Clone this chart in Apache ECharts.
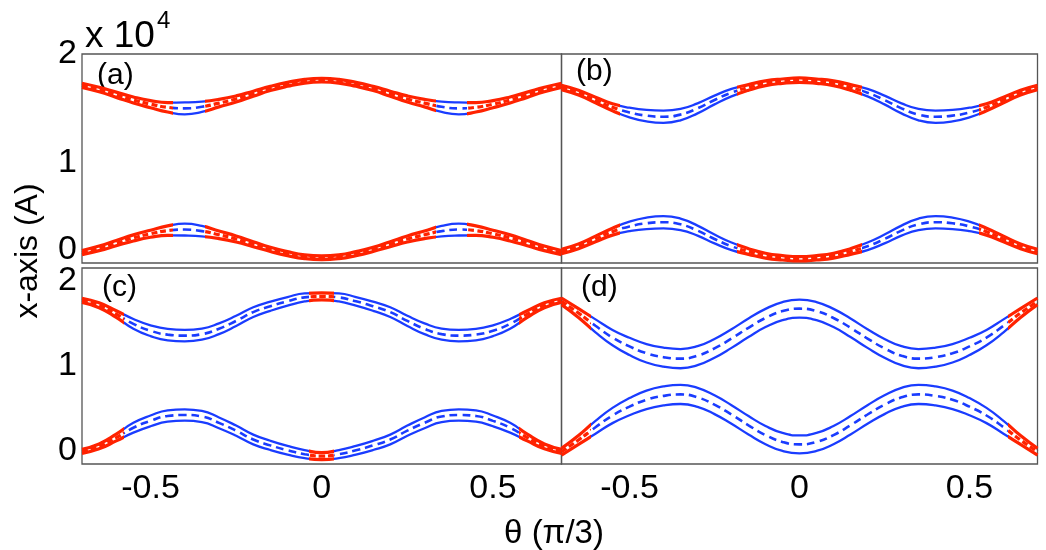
<!DOCTYPE html>
<html>
<head>
<meta charset="utf-8">
<script src="https://cdn.jsdelivr.net/npm/echarts@6/dist/echarts.min.js"></script>
<style>
  html, body { margin: 0; padding: 0; background: #fff; }
  #chart { width: 1046px; height: 550px; }
</style>
</head>
<body>
<div id="chart"></div>
<script>
// theta in units of pi/3
const theta = [-0.7, -0.65, -0.6, -0.55, -0.5, -0.45, -0.4, -0.35, -0.3, -0.25, -0.2, -0.15, -0.1, -0.05, 0,
  0.05, 0.1, 0.15, 0.2, 0.25, 0.3, 0.35, 0.4, 0.45, 0.5, 0.55, 0.6, 0.65, 0.7];

// band centres (x 10^4 A)
const upperA = [1.70, 1.66, 1.61, 1.56, 1.52, 1.49, 1.48, 1.495, 1.53, 1.57, 1.62, 1.67, 1.71, 1.74, 1.75,
  1.74, 1.71, 1.67, 1.62, 1.57, 1.53, 1.495, 1.48, 1.49, 1.52, 1.56, 1.61, 1.66, 1.70];
const lowerA = [0.10, 0.14, 0.19, 0.24, 0.28, 0.31, 0.32, 0.305, 0.27, 0.23, 0.18, 0.13, 0.09, 0.06, 0.05,
  0.06, 0.09, 0.13, 0.18, 0.23, 0.27, 0.305, 0.32, 0.31, 0.28, 0.24, 0.19, 0.14, 0.10];
const upperB = [1.68, 1.63, 1.56, 1.49, 1.44, 1.41, 1.40, 1.42, 1.48, 1.56, 1.63, 1.68, 1.72, 1.74, 1.75,
  1.74, 1.72, 1.68, 1.63, 1.56, 1.48, 1.42, 1.40, 1.41, 1.44, 1.49, 1.56, 1.63, 1.68];
const lowerB = [0.11, 0.16, 0.23, 0.30, 0.35, 0.38, 0.39, 0.37, 0.31, 0.23, 0.16, 0.11, 0.07, 0.05, 0.04,
  0.05, 0.07, 0.11, 0.16, 0.23, 0.31, 0.37, 0.39, 0.38, 0.35, 0.30, 0.23, 0.16, 0.11];
const upperC = [1.67, 1.62, 1.53, 1.43, 1.36, 1.32, 1.31, 1.325, 1.38, 1.46, 1.55, 1.61, 1.66, 1.70, 1.71,
  1.70, 1.66, 1.61, 1.55, 1.46, 1.38, 1.325, 1.31, 1.32, 1.36, 1.43, 1.53, 1.62, 1.67];
const lowerC = [0.13, 0.18, 0.27, 0.37, 0.44, 0.49, 0.50, 0.485, 0.42, 0.34, 0.25, 0.19, 0.14, 0.10, 0.08,
  0.10, 0.14, 0.19, 0.25, 0.34, 0.42, 0.485, 0.50, 0.49, 0.44, 0.37, 0.27, 0.18, 0.13];
const upperD = [1.66, 1.54, 1.41, 1.29, 1.20, 1.13, 1.09, 1.075, 1.105, 1.18, 1.28, 1.39, 1.49, 1.56, 1.585,
  1.56, 1.49, 1.39, 1.28, 1.18, 1.105, 1.075, 1.09, 1.13, 1.20, 1.29, 1.41, 1.54, 1.66];
const lowerD = [0.125, 0.245, 0.375, 0.495, 0.585, 0.655, 0.695, 0.71, 0.68, 0.605, 0.505, 0.395, 0.295, 0.225, 0.20,
  0.225, 0.295, 0.395, 0.505, 0.605, 0.68, 0.71, 0.695, 0.655, 0.585, 0.495, 0.375, 0.245, 0.125];

// half width of the band at each theta: outer solid lines sit at centre +/- this
const widthA = [0.020, 0.022, 0.025, 0.029, 0.034, 0.045, 0.057, 0.050, 0.036, 0.029, 0.024, 0.020, 0.019, 0.018, 0.018,
  0.018, 0.019, 0.020, 0.024, 0.029, 0.036, 0.050, 0.057, 0.045, 0.034, 0.029, 0.025, 0.022, 0.020];
const widthB = [0.021, 0.023, 0.027, 0.033, 0.046, 0.055, 0.059, 0.055, 0.048, 0.042, 0.036, 0.027, 0.023, 0.021, 0.021,
  0.021, 0.023, 0.027, 0.036, 0.042, 0.048, 0.055, 0.059, 0.055, 0.046, 0.033, 0.027, 0.023, 0.021];
const widthC = [0.021, 0.025, 0.034, 0.050, 0.055, 0.058, 0.058, 0.057, 0.055, 0.052, 0.050, 0.047, 0.044, 0.041, 0.036,
  0.041, 0.044, 0.047, 0.050, 0.052, 0.055, 0.057, 0.058, 0.058, 0.055, 0.050, 0.034, 0.025, 0.021];
const widthD = [0.034, 0.045, 0.066, 0.078, 0.088, 0.094, 0.097, 0.098, 0.097, 0.096, 0.095, 0.094, 0.093, 0.092, 0.092,
  0.092, 0.093, 0.094, 0.095, 0.096, 0.097, 0.098, 0.097, 0.094, 0.088, 0.078, 0.066, 0.045, 0.034];

// theta where the colour switches, starting red at the left edge
const switchA = [-0.435, -0.34, 0.335, 0.425];
const switchB = [-0.527, -0.184, 0.185, 0.527];
const switchC = [-0.577, -0.037, 0.035, 0.575];
const switchD = [-0.612, 0.612];

const xTicks = [-0.5, 0, 0.5];
const yTicks = [0, 1, 2];
const panelNames = ['(a)', '(b)', '(c)', '(d)'];

const RED = '#ff2200';
const BLUE = '#1a3cff';
const CLEAR = 'rgba(255,255,255,0)';
const FONT = 'Liberation Sans, Arial, sans-serif';

const panels = [
  { upper: upperA, lower: lowerA, hw: widthA, sw: switchA },
  { upper: upperB, lower: lowerB, hw: widthB, sw: switchB },
  { upper: upperC, lower: lowerC, hw: widthC, sw: switchC },
  { upper: upperD, lower: lowerD, hw: widthD, sw: switchD }
];

const grids = [
  { left: 82, top: 54, width: 479.5, height: 209 },
  { left: 561.5, top: 54, width: 476, height: 209 },
  { left: 82, top: 268, width: 479.5, height: 196 },
  { left: 561.5, top: 268, width: 476, height: 196 }
];

const series = [];
const visualMaps = [];

// pieces along theta: colour where this series is visible, clear elsewhere
function colourPieces(edges, colour, startVisible) {
  const cuts = [-10].concat(edges, [10]);
  const pieces = [];
  for (let i = 0; i < cuts.length - 1; i++) {
    const on = (i % 2 === 0) === startVisible;
    pieces.push({ gte: cuts[i], lt: cuts[i + 1], color: on ? colour : CLEAR });
  }
  return pieces;
}

panels.forEach((p, k) => {
  const blueIdx = [];
  const redIdx = [];
  [p.upper, p.lower].forEach(band => {
    [[1, 'solid'], [0, [8, 5]], [-1, 'solid']].forEach(([side, dash]) => {
      const data = theta.map((t, i) => [t, band[i] + side * p.hw[i]]);
      const common = {
        type: 'line', xAxisIndex: k, yAxisIndex: k, data: data,
        smooth: true, showSymbol: false, silent: true
      };
      blueIdx.push(series.length);
      series.push(Object.assign({}, common, {
        z: 2,
        lineStyle: { width: dash === 'solid' ? 2.3 : 2.6, type: dash }
      }));
      redIdx.push(series.length);
      series.push(Object.assign({}, common, {
        z: 3,
        lineStyle: { width: 3.2, type: dash === 'solid' ? 'solid' : [6, 3] }
      }));
    });
  });
  visualMaps.push({ type: 'piecewise', show: false, dimension: 0, seriesIndex: blueIdx, pieces: colourPieces(p.sw, BLUE, false) });
  visualMaps.push({ type: 'piecewise', show: false, dimension: 0, seriesIndex: redIdx, pieces: colourPieces(p.sw, RED, true) });
});

const graphic = [
  { type: 'text', x: 85, y: 37, style: { text: 'x 10', fontSize: 37, fontFamily: FONT, fill: '#000', align: 'left', verticalAlign: 'middle' } },
  { type: 'text', x: 157, y: 21, style: { text: '4', fontSize: 24, fontFamily: FONT, fill: '#000', align: 'left', verticalAlign: 'middle' } },
  { type: 'text', x: 28, y: 251, rotation: Math.PI / 2, style: { text: 'x-axis (A)', fontSize: 32, fontFamily: FONT, fill: '#000', align: 'center', verticalAlign: 'middle' } },
  { type: 'text', x: 554, y: 534, style: { text: 'θ (π/3)', fontSize: 33, fontFamily: FONT, fill: '#000', align: 'center', verticalAlign: 'middle' } }
];
const labelPos = [[97, 76], [576, 72], [102, 288], [581, 288]];
panelNames.forEach((name, k) => {
  graphic.push({ type: 'text', x: labelPos[k][0], y: labelPos[k][1],
    style: { text: name, fontSize: 30, fontFamily: FONT, fill: '#000', align: 'left', verticalAlign: 'middle' } });
});

const chart = echarts.init(document.getElementById('chart'));
chart.setOption({
  animation: false,
  backgroundColor: '#fff',
  grid: grids.map(g => Object.assign({ show: true, borderColor: '#555', borderWidth: 1.3, backgroundColor: 'transparent' }, g)),
  xAxis: grids.map((g, k) => ({
    type: 'value', gridIndex: k, min: -0.7, max: 0.7,
    splitLine: { show: false }, axisTick: { show: false }, axisLine: { show: false },
    axisLabel: {
      show: k >= 2, customValues: xTicks, margin: 8,
      fontSize: 34, fontFamily: FONT, color: '#000',
      formatter: v => String(v)
    }
  })),
  yAxis: grids.map((g, k) => ({
    type: 'value', gridIndex: k, min: 0, max: 2,
    splitLine: { show: false }, axisTick: { show: false }, axisLine: { show: false },
    axisLabel: {
      show: k % 2 === 0, customValues: yTicks, margin: 5,
      fontSize: 34, fontFamily: FONT, color: '#000', lineHeight: 26,
      verticalAlignMinLabel: 'bottom',
      verticalAlignMaxLabel: k === 0 ? 'middle' : 'top',
      formatter: v => (k === 0 && v === 1) ? '{low|1}' : String(v),
      rich: { low: { fontSize: 34, fontFamily: FONT, color: '#000', lineHeight: 26, padding: [9, 0, 0, 0] } }
    }
  })),
  visualMap: visualMaps,
  series: series,
  graphic: graphic
});
</script>
</body>
</html>
